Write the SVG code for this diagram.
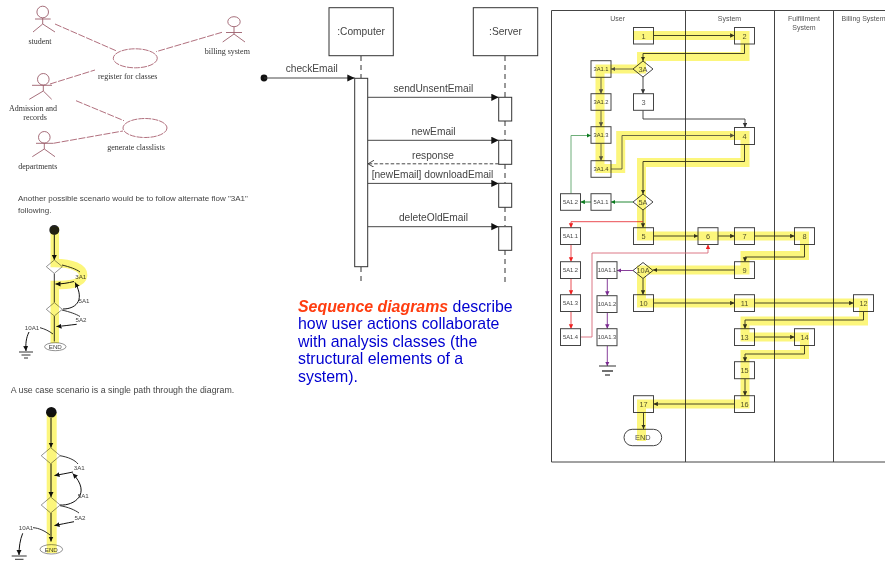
<svg xmlns="http://www.w3.org/2000/svg" width="885" height="563" viewBox="0 0 885 563">
<style>
text{font-family:"Liberation Sans",Arial,sans-serif;fill:#444}
.t{font-family:"Liberation Serif","Times New Roman",serif;font-size:8px;fill:#333;text-anchor:middle}
.a{fill:none;stroke:#9c5f6c;stroke-width:.9}
.al{fill:none;stroke:#a8606f;stroke-width:.9;stroke-dasharray:7 1.5}
.uc{fill:#fff;stroke:#a8606f;stroke-width:.9;stroke-dasharray:6 1}
.c{fill:none;stroke:#333;stroke-width:1}
.hl{fill:none;stroke:#fcf67c;stroke-linejoin:miter;mix-blend-mode:multiply}
.para{font-size:8px;fill:#444}
.para2{font-size:8.8px;fill:#444}
.blue{font-size:15.9px;fill:#0000d0}
.fl{font-size:6.2px;text-anchor:middle;fill:#444}
.fd{fill:#fff;stroke:#777;stroke-width:.8}
.seqbox{fill:#fff;stroke:#333;stroke-width:1}
.seqt{font-size:10.2px;text-anchor:middle;fill:#444}
.life{stroke:#333;stroke-width:1;stroke-dasharray:5 4;fill:none}
.msg{stroke:#333;stroke-width:.9;fill:none;marker-end:url(#seq)}
.n{fill:#fff;stroke:#444;stroke-width:1}
.nl{font-size:7.4px;text-anchor:middle;fill:#555}
.ns{font-size:5.8px;text-anchor:middle;fill:#444}
.lane{font-size:7px;text-anchor:middle;fill:#555}
.k{fill:none;stroke:#333;stroke-width:.9;marker-end:url(#ak)}
.s{fill:none;stroke:#5c5c80;stroke-width:.9;marker-end:url(#as)}
.g{fill:none;stroke:#0a7a1e;stroke-width:.9;marker-end:url(#ag)}
.g2{fill:none;stroke:#5fa56b;stroke-width:.9;marker-end:url(#ag)}
.r{fill:none;stroke:#e8393f;stroke-width:.9;marker-end:url(#ar)}
.r2{fill:none;stroke:#d86a78;stroke-width:.9;marker-end:url(#ar)}
.p{fill:none;stroke:#7a2a90;stroke-width:.9;marker-end:url(#ap)}
.blk{fill:none;stroke:#111;stroke-width:1;marker-end:url(#ab)}
</style>
<defs>
<marker id="ak" markerWidth="5" markerHeight="5" refX="4.4" refY="2.2" orient="auto" markerUnits="userSpaceOnUse"><path d="M0 0L4.4 2.2L0 4.4Z" fill="#333"/></marker>
<marker id="as" markerWidth="5" markerHeight="5" refX="4.4" refY="2.2" orient="auto" markerUnits="userSpaceOnUse"><path d="M0 0L4.4 2.2L0 4.4Z" fill="#55557a"/></marker>
<marker id="ag" markerWidth="5" markerHeight="5" refX="4.4" refY="2.2" orient="auto" markerUnits="userSpaceOnUse"><path d="M0 0L4.4 2.2L0 4.4Z" fill="#0a7a1e"/></marker>
<marker id="ar" markerWidth="5" markerHeight="5" refX="4.4" refY="2.2" orient="auto" markerUnits="userSpaceOnUse"><path d="M0 0L4.4 2.2L0 4.4Z" fill="#ee2222"/></marker>
<marker id="ap" markerWidth="5" markerHeight="5" refX="4.4" refY="2.2" orient="auto" markerUnits="userSpaceOnUse"><path d="M0 0L4.4 2.2L0 4.4Z" fill="#7a2a90"/></marker>
<marker id="ab" markerWidth="6" markerHeight="6" refX="5" refY="2.5" orient="auto" markerUnits="userSpaceOnUse"><path d="M0 0L5 2.5L0 5Z" fill="#111"/></marker>
<marker id="seq" markerWidth="8" markerHeight="8" refX="7.4" refY="3.6" orient="auto" markerUnits="userSpaceOnUse"><path d="M0 0L7.4 3.6L0 7.2Z" fill="#111"/></marker>
<marker id="seqo" markerWidth="8" markerHeight="8" refX="6" refY="3.5" orient="auto" markerUnits="userSpaceOnUse"><path d="M0 0L6 3.5L0 7" fill="none" stroke="#333" stroke-width=".9"/></marker>
</defs>
<rect width="885" height="563" fill="#fff"/>

<!-- use case diagram -->
<g id="usecase-connectors">
<path class="al" d="M55 24L116 50.7M222 32.3L156 51.7M50 84L95 70M76 100.7L124 120.7M53.3 143.3L123 131"/>
</g>
<g id="actor-student"><circle class="a" cx="42.7" cy="12" r="5.8"/><path class="a" d="M42.7 18V24L33 32M42.7 24L55 32M35 19H50.7"/><text class="t" x="40" y="44">student</text></g>
<g id="actor-billing"><ellipse class="a" cx="234" cy="21.7" rx="6.2" ry="5"/><path class="a" d="M234 27V34L222.7 42M234 34L245 42M226 32.5H242"/><text class="t" x="227.3" y="53.5">billing system</text></g>
<g id="actor-admission"><circle class="a" cx="43.3" cy="79.3" r="5.8"/><path class="a" d="M43.3 85V91L29.3 99.3M43.3 91L51.7 99.3M32 85.3H52"/><text class="t" x="33" y="111">Admission and</text><text class="t" x="35" y="119.5">records</text></g>
<g id="actor-departments"><circle class="a" cx="44.3" cy="137.3" r="5.8"/><path class="a" d="M44.3 143V149L32.3 156.7M44.3 149L55 156.7M36 143.3H53"/><text class="t" x="37.7" y="168.5">departments</text></g>
<g id="uc-register"><ellipse class="uc" cx="135.3" cy="58.3" rx="22" ry="9.5"/><text class="t" x="127.7" y="78.5">register for classes</text></g>
<g id="uc-generate"><ellipse class="uc" cx="145" cy="128" rx="22" ry="9.5"/><text class="t" x="136" y="149.5">generate classlists</text></g>

<!-- alternate flow scenario -->
<text class="para" x="18" y="200.5">Another possible scenario would be to follow alternate flow "3A1"</text>
<text class="para" x="18" y="213">following.</text>
<g id="flow1-connectors">
<path class="blk" d="M54.3 235V260"/>
<path class="c" d="M54.3 273.4V302.6M54.3 316V341.5"/>
<path class="c" d="M62 265C70 267 76 269 80 272"/>
<path class="blk" d="M74 281.5C68 283 62 284 55.5 284"/>
<path class="blk" d="M63 309C74 309 86 302 75 282.5"/>
<path class="c" d="M62 310C70 312 76 314 80 316.5"/>
<path class="blk" d="M76.7 324.3C70 325 64 326 56.5 326.5"/>
<path class="c" d="M40 327.7C45 329 49 331 53 334"/>
<path class="blk" d="M29 332C26 338 25.5 344 26 351"/>
</g>
<g id="flow1-start"><circle cx="54.3" cy="230" r="5" fill="#222"/></g>
<g id="flow1-d1"><path class="fd" d="M54.3 260L62.3 266.7L54.3 273.4L46.3 266.7Z"/></g>
<g id="flow1-d2"><path class="fd" d="M54.3 302.6L62.3 309.3L54.3 316L46.3 309.3Z"/></g>
<g id="flow1-end"><ellipse class="fd" cx="55.3" cy="346.7" rx="10.7" ry="4"/><text class="fl" x="55.3" y="349">END</text></g>
<g id="flow1-ground"><path class="c" d="M19 352H33M21.5 355H30.5M24 358H28"/></g>
<text class="fl" x="80.7" y="278.5">3A1</text>
<text class="fl" x="84" y="303">5A1</text>
<text class="fl" x="81" y="321.5">5A2</text>
<text class="fl" x="32" y="330">10A1</text>
<path class="hl" stroke-width="8.5" d="M54.8 227V263C72 263 84 268 83 276C82 284 68 285 54.8 285V343"/>

<!-- single path scenario -->
<text class="para2" x="10.7" y="393.3">A use case scenario is a single path through the diagram.</text>
<g id="flow2-connectors">
<path class="blk" d="M51 418V447.5"/>
<path class="blk" d="M51 463.5V497"/>
<path class="blk" d="M51 513V541.5"/>
<path class="c" d="M60 455.7C68 457 75 460 78 464"/>
<path class="blk" d="M73 472C66 473.5 60 474.5 54.5 475.5"/>
<path class="blk" d="M60 505C74 506 92 494 72.7 473.5"/>
<path class="c" d="M60 505.7C68 507 75 510 79 513"/>
<path class="blk" d="M74 521.7C67 523 60 524.5 54.5 525.5"/>
<path class="c" d="M33 527.7C39 528 45 531 50 535"/>
<path class="blk" d="M22.7 533.3C20 540 19 547 19 555"/>
</g>
<g id="flow2-start"><circle cx="51.3" cy="412.3" r="5.3" fill="#111"/></g>
<g id="flow2-d1"><path class="fd" d="M50.7 447.7L60.2 455.7L50.7 463.7L41.2 455.7Z"/></g>
<g id="flow2-d2"><path class="fd" d="M50.7 497L60.2 505L50.7 513L41.2 505Z"/></g>
<g id="flow2-end"><ellipse class="fd" cx="51.3" cy="549.3" rx="11.3" ry="4.7"/><text class="fl" x="51.3" y="551.8">END</text></g>
<g id="flow2-ground"><path class="c" d="M11.7 556H26.7M15 559.3H23.5"/></g>
<text class="fl" x="79.3" y="470">3A1</text>
<text class="fl" x="83.3" y="498">5A1</text>
<text class="fl" x="80" y="519.5">5A2</text>
<text class="fl" x="26" y="530">10A1</text>
<path class="hl" stroke-width="10" d="M51.7 413V553"/>

<!-- sequence diagram -->
<g id="seq-connectors">
<path class="life" d="M361 56V78M361 267V283M505 56V97M505 121V140M505 164V183M505 207V226M505 250V283"/>
<circle cx="264" cy="78" r="3.4" fill="#111"/>
<path class="msg" d="M264 78H354.7"/>
<path class="msg" d="M367.7 97.3H498.7"/>
<path class="msg" d="M367.7 140.3H498.7"/>
<path d="M498.7 163.8H368" fill="none" stroke="#333" stroke-width=".9" stroke-dasharray="3.5 2" marker-end="url(#seqo)"/>
<path class="msg" d="M367.7 183.4H498.7"/>
<path class="msg" d="M367.7 226.7H498.7"/>
</g>
<g id="seq-computer"><rect class="seqbox" x="329" y="7.7" width="64.3" height="48"/><text class="seqt" x="361" y="35">:Computer</text></g>
<g id="seq-server"><rect class="seqbox" x="473.3" y="7.7" width="64.4" height="48"/><text class="seqt" x="505.5" y="35">:Server</text></g>
<g id="seq-act-computer"><rect class="seqbox" x="354.7" y="78.3" width="13" height="188.4"/></g>
<g id="seq-act-1"><rect class="seqbox" x="498.7" y="97.3" width="13" height="23.7"/></g>
<g id="seq-act-2"><rect class="seqbox" x="498.7" y="140.3" width="13" height="24"/></g>
<g id="seq-act-3"><rect class="seqbox" x="498.7" y="183.3" width="13" height="24"/></g>
<g id="seq-act-4"><rect class="seqbox" x="498.7" y="226.7" width="13" height="23.6"/></g>
<text class="seqt" x="311.7" y="72">checkEmail</text>
<text class="seqt" x="433.3" y="91.7">sendUnsentEmail</text>
<text class="seqt" x="433.5" y="135">newEmail</text>
<text class="seqt" x="433" y="159">response</text>
<text class="seqt" x="432.5" y="178">[newEmail] downloadEmail</text>
<text class="seqt" x="433.5" y="221">deleteOldEmail</text>
<text class="blue" x="298" y="311.5"><tspan font-weight="bold" font-style="italic" style="fill:#ff3d10">Sequence diagrams</tspan> describe</text>
<text class="blue" x="298" y="329">how user actions collaborate</text>
<text class="blue" x="298" y="346.5">with analysis classes (the</text>
<text class="blue" x="298" y="364">structural elements of a</text>
<text class="blue" x="298" y="381.5">system).</text>

<!-- swimlane -->
<g id="swimlanes" fill="none" stroke="#444" stroke-width="1">
<path d="M885 10.5H551.5V462H885M685.5 10.5V462M774.5 10.5V462M833.5 10.5V462"/>
</g>
<text class="lane" x="617.7" y="20.5">User</text>
<text class="lane" x="729.5" y="20.5">System</text>
<text class="lane" x="804" y="20.5">Fulfillment</text>
<text class="lane" x="804" y="29.5">System</text>
<text class="lane" x="863.5" y="20.5">Billing System</text>
<g id="connectors">
<path class="k" d="M653.5 35.5H734.5"/>
<path class="k" d="M744.5 43.5V53.5H643V61"/>
<path class="s" d="M633 69H611"/>
<path class="s" d="M601 77.3V93.7"/>
<path class="s" d="M601 110.3V126.7"/>
<path class="s" d="M601 143.3V160.7"/>
<path class="k" d="M643 77V93.7"/>
<path class="k" d="M643 110.3V119H745V127.5"/>
<path class="s" d="M611 169H622V135.5H734.5"/>
<path class="k" d="M744.5 144.5V161.5H643V194"/>
<path class="k" d="M643 210V227.7"/>
<path class="g" d="M633 202H611"/>
<path class="g" d="M591 202H580.5"/>
<path class="g2" d="M571 193.7V135.5H591"/>
<path class="r" d="M643 221.7H571V227.7"/>
<path class="r" d="M571 244.5V261.7"/>
<path class="r" d="M571 278.5V294.7"/>
<path class="r" d="M571 311.5V328.7"/>
<path class="r2" d="M580.5 337H592V253H708V244.5"/>
<path class="k" d="M653.5 236H698"/>
<path class="k" d="M718 236H734.5"/>
<path class="k" d="M754.5 236H794.5"/>
<path class="k" d="M804.5 244.5V257H745V261.7"/>
<path class="k" d="M734.5 270H653"/>
<path class="p" d="M633 270.5H617"/>
<path class="p" d="M607.3 278.5V295.7"/>
<path class="p" d="M607.3 312.5V328.7"/>
<path class="p" d="M607.3 345.7V366"/>
<path class="k" d="M643 278.5V294.7"/>
<path class="k" d="M653.5 303H734.5"/>
<path class="k" d="M754.5 303H853.5"/>
<path class="k" d="M863.5 311.5V320H745V328.7"/>
<path class="k" d="M754.5 337H794.5"/>
<path class="k" d="M804.5 345.5V354H745V361.7"/>
<path class="k" d="M745 378.7V395.7"/>
<path class="k" d="M734.5 404H653.5"/>
<path class="k" d="M643.5 412.5V429"/>
</g>
<g id="n1"><rect class="n" x="633.5" y="27.5" width="20" height="16.5"/><text class="nl" x="643.5" y="38.5">1</text></g>
<g id="n2"><rect class="n" x="734.5" y="27.5" width="20" height="16.5"/><text class="nl" x="744.5" y="38.5">2</text></g>
<g id="n3A"><path class="n" stroke-width=".8" d="M643 61L653 69L643 77L633 69Z"/><text class="nl" x="643" y="71.5">3A</text></g>
<g id="n3A1-1"><rect class="n" x="591" y="60.7" width="20" height="16.6"/><text class="ns" x="601" y="71">3A1.1</text></g>
<g id="n3A1-2"><rect class="n" x="591" y="93.7" width="20" height="16.6"/><text class="ns" x="601" y="104">3A1.2</text></g>
<g id="n3"><rect class="n" x="633.5" y="93.7" width="20" height="16.6"/><text class="nl" x="643.5" y="105">3</text></g>
<g id="n3A1-3"><rect class="n" x="591" y="126.7" width="20" height="16.6"/><text class="ns" x="601" y="137">3A1.3</text></g>
<g id="n4"><rect class="n" x="734.5" y="127.5" width="20" height="17"/><text class="nl" x="744.5" y="139">4</text></g>
<g id="n3A1-4"><rect class="n" x="591" y="160.7" width="20" height="16.6"/><text class="ns" x="601" y="171">3A1.4</text></g>
<g id="n5A"><path class="n" stroke-width=".8" d="M643 194L653 202L643 210L633 202Z"/><text class="nl" x="643" y="204.5">5A</text></g>
<g id="n5A1-1t"><rect class="n" x="591" y="193.7" width="20" height="16.6"/><text class="ns" x="601" y="204">5A1.1</text></g>
<g id="n5A1-2t"><rect class="n" x="560.5" y="193.7" width="20" height="16.6"/><text class="ns" x="570.5" y="204">5A1.2</text></g>
<g id="n5A1-1"><rect class="n" x="560.5" y="227.7" width="20" height="16.8"/><text class="ns" x="570.5" y="238">5A1.1</text></g>
<g id="n5"><rect class="n" x="633.5" y="227.7" width="20" height="16.8"/><text class="nl" x="643.5" y="239">5</text></g>
<g id="n6"><rect class="n" x="698" y="227.7" width="20" height="16.8"/><text class="nl" x="708" y="239">6</text></g>
<g id="n7"><rect class="n" x="734.5" y="227.7" width="20" height="16.8"/><text class="nl" x="744.5" y="239">7</text></g>
<g id="n8"><rect class="n" x="794.5" y="227.7" width="20" height="16.8"/><text class="nl" x="804.5" y="239">8</text></g>
<g id="n5A1-2"><rect class="n" x="560.5" y="261.7" width="20" height="16.8"/><text class="ns" x="570.5" y="272">5A1.2</text></g>
<g id="n10A1-1"><rect class="n" x="597" y="261.7" width="20" height="16.8"/><text class="ns" x="607" y="272">10A1.1</text></g>
<g id="n10A"><path class="n" stroke-width=".8" d="M643 262.5L653 270.5L643 278.5L633 270.5Z"/><text class="nl" x="643" y="273">10A</text></g>
<g id="n9"><rect class="n" x="734.5" y="261.7" width="20" height="16.8"/><text class="nl" x="744.5" y="273">9</text></g>
<g id="n5A1-3"><rect class="n" x="560.5" y="294.7" width="20" height="16.8"/><text class="ns" x="570.5" y="305">5A1.3</text></g>
<g id="n10A1-2"><rect class="n" x="597" y="295.7" width="20" height="16.8"/><text class="ns" x="607" y="306">10A1.2</text></g>
<g id="n10"><rect class="n" x="633.5" y="294.7" width="20" height="16.8"/><text class="nl" x="643.5" y="306">10</text></g>
<g id="n11"><rect class="n" x="734.5" y="294.7" width="20" height="16.8"/><text class="nl" x="744.5" y="306">11</text></g>
<g id="n12"><rect class="n" x="853.5" y="294.7" width="20" height="16.8"/><text class="nl" x="863.5" y="306">12</text></g>
<g id="n5A1-4"><rect class="n" x="560.5" y="328.7" width="20" height="16.8"/><text class="ns" x="570.5" y="339">5A1.4</text></g>
<g id="n10A1-3"><rect class="n" x="597" y="328.7" width="20" height="17"/><text class="ns" x="607" y="339">10A1.3</text></g>
<g id="n13"><rect class="n" x="734.5" y="328.7" width="20" height="16.8"/><text class="nl" x="744.5" y="340">13</text></g>
<g id="n14"><rect class="n" x="794.5" y="328.7" width="20" height="16.8"/><text class="nl" x="804.5" y="340">14</text></g>
<g id="ground"><path d="M599 366H616" stroke="#333" stroke-width="1" fill="none"/><path d="M602 371H613" stroke="#333" stroke-width="1.4" fill="none"/><path d="M605 375H610" stroke="#333" stroke-width="1.2" fill="none"/></g>
<g id="n15"><rect class="n" x="734.5" y="361.7" width="20" height="17"/><text class="nl" x="744.5" y="373">15</text></g>
<g id="n16"><rect class="n" x="734.5" y="395.7" width="20" height="16.8"/><text class="nl" x="744.5" y="407">16</text></g>
<g id="n17"><rect class="n" x="633.5" y="395.7" width="20" height="16.8"/><text class="nl" x="643.5" y="407">17</text></g>
<g id="nEND"><rect class="n" stroke-width=".8" x="624" y="429.3" width="37.7" height="16.4" rx="8.2"/><text class="nl" x="642.8" y="440">END</text></g>
<path class="hl" stroke-width="9" d="M633 35.5H745V56.5H641.5V69H600V168.5H620.7V135.5H745V162.5H641.5V236H804.5V255.5H745V270H641.5V303H863.5V321H745V337H804.5V354.5H745V404H641.5V441"/>
</svg>
